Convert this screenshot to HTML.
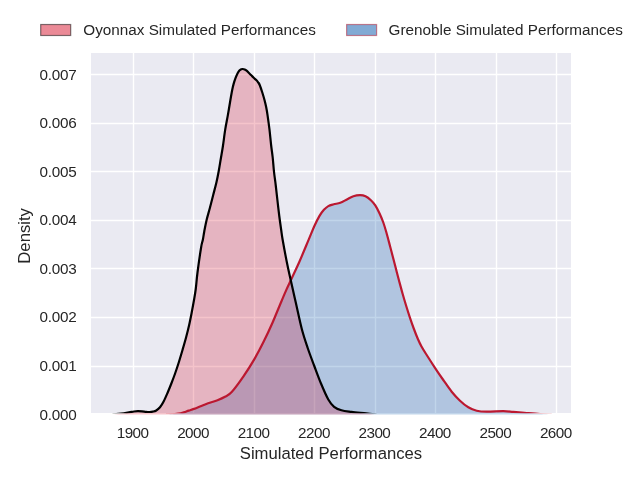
<!DOCTYPE html>
<html><head><meta charset="utf-8"><style>
html,body{margin:0;padding:0;background:#fff;}
body{width:640px;height:480px;overflow:hidden;}
svg{display:block;}
text{font-family:"Liberation Sans",sans-serif;fill:#262626;}
</style></head><body>
<svg width="640" height="480" viewBox="0 0 640 480">
<rect x="0" y="0" width="640" height="480" fill="#ffffff"/>
<rect x="91" y="53" width="480" height="360" fill="#eaeaf2"/>
<g stroke="#ffffff" stroke-width="1.4"><line x1="133.50" y1="53.0" x2="133.50" y2="413.0"/><line x1="193.50" y1="53.0" x2="193.50" y2="413.0"/><line x1="254.50" y1="53.0" x2="254.50" y2="413.0"/><line x1="314.50" y1="53.0" x2="314.50" y2="413.0"/><line x1="375.50" y1="53.0" x2="375.50" y2="413.0"/><line x1="435.50" y1="53.0" x2="435.50" y2="413.0"/><line x1="496.50" y1="53.0" x2="496.50" y2="413.0"/><line x1="556.50" y1="53.0" x2="556.50" y2="413.0"/><line x1="91" y1="366.50" x2="571" y2="366.50"/><line x1="91" y1="317.50" x2="571" y2="317.50"/><line x1="91" y1="268.50" x2="571" y2="268.50"/><line x1="91" y1="220.50" x2="571" y2="220.50"/><line x1="91" y1="171.50" x2="571" y2="171.50"/><line x1="91" y1="123.50" x2="571" y2="123.50"/><line x1="91" y1="74.50" x2="571" y2="74.50"/></g>
<clipPath id="c"><rect x="91" y="53" width="480" height="360.3"/></clipPath>
<path d="M166.00,414.60C167.50,414.50 172.58,414.22 175.00,414.00C177.42,413.78 178.83,413.63 180.50,413.30C182.17,412.97 183.65,412.45 185.00,412.00C186.35,411.55 187.12,411.12 188.60,410.60C190.08,410.08 191.90,409.63 193.90,408.90C195.90,408.17 198.23,407.13 200.60,406.20C202.97,405.27 205.28,404.30 208.10,403.30C210.92,402.30 214.68,401.28 217.50,400.20C220.32,399.12 222.63,398.17 225.00,396.80C227.37,395.43 228.65,395.37 231.70,392.00C234.75,388.63 239.52,382.08 243.30,376.60C247.08,371.12 251.00,364.93 254.40,359.10C257.80,353.27 260.68,347.67 263.70,341.60C266.72,335.53 269.82,328.77 272.50,322.70C275.18,316.63 277.55,310.55 279.80,305.20C282.05,299.85 283.95,295.22 286.00,290.60C288.05,285.98 289.85,282.35 292.10,277.50C294.35,272.65 296.68,267.93 299.50,261.50C302.32,255.07 306.50,244.85 309.00,238.90C311.50,232.95 312.75,229.63 314.50,225.80C316.25,221.97 317.93,218.57 319.50,215.90C321.07,213.23 322.43,211.43 323.90,209.80C325.37,208.17 326.66,207.02 328.30,206.10C329.94,205.18 331.75,204.85 333.75,204.30C335.75,203.75 338.11,203.60 340.30,202.80C342.49,202.00 344.72,200.59 346.90,199.50C349.08,198.41 351.22,196.97 353.40,196.25C355.58,195.53 357.98,195.20 360.00,195.20C362.02,195.20 363.68,195.42 365.50,196.25C367.32,197.08 369.27,198.67 370.90,200.20C372.53,201.72 373.83,203.14 375.30,205.40C376.77,207.66 378.37,210.90 379.70,213.75C381.03,216.60 382.18,219.38 383.30,222.50C384.42,225.62 385.28,228.58 386.40,232.50C387.52,236.42 388.80,241.45 390.00,246.00C391.20,250.55 392.57,255.83 393.60,259.80C394.63,263.77 395.30,266.35 396.20,269.80C397.10,273.25 397.93,276.51 399.00,280.50C400.07,284.49 401.38,289.46 402.60,293.75C403.82,298.04 405.07,302.24 406.30,306.25C407.53,310.26 408.76,314.09 410.00,317.80C411.24,321.51 412.42,324.92 413.75,328.50C415.08,332.08 416.71,336.30 418.00,339.30C419.29,342.30 420.05,343.88 421.50,346.50C422.95,349.12 424.40,351.37 426.70,355.00C429.00,358.63 432.53,364.13 435.30,368.30C438.07,372.47 440.57,376.10 443.30,380.00C446.03,383.90 448.92,388.25 451.70,391.70C454.48,395.15 457.23,398.10 460.00,400.70C462.77,403.30 465.52,405.63 468.30,407.30C471.08,408.97 473.63,409.97 476.70,410.70C479.77,411.43 482.27,411.62 486.70,411.70C491.13,411.78 498.87,411.17 503.30,411.20C507.73,411.23 509.40,411.60 513.30,411.90C517.20,412.20 522.25,412.65 526.70,413.00C531.15,413.35 535.83,413.73 540.00,414.00C544.17,414.27 549.75,414.50 551.70,414.60L551.70,414.40 L166.00,414.40 Z" fill="#0656aa" fill-opacity="0.25"/>
<path d="M112.50,414.60C113.92,414.45 118.25,414.07 121.00,413.70C123.75,413.33 126.83,412.77 129.00,412.40C131.17,412.03 132.53,411.72 134.00,411.50C135.47,411.28 136.47,411.13 137.80,411.10C139.13,411.07 140.63,411.18 142.00,411.30C143.37,411.42 144.75,411.68 146.00,411.80C147.25,411.92 148.37,412.03 149.50,412.00C150.63,411.97 151.68,411.85 152.80,411.60C153.93,411.35 155.05,411.22 156.25,410.50C157.45,409.78 158.75,408.84 160.00,407.30C161.25,405.76 162.50,403.63 163.75,401.25C165.00,398.87 166.25,395.92 167.50,393.00C168.75,390.08 170.00,386.96 171.25,383.75C172.50,380.54 173.75,377.29 175.00,373.75C176.25,370.21 177.50,366.46 178.75,362.50C180.00,358.54 181.28,354.17 182.50,350.00C183.72,345.83 184.94,341.67 186.05,337.50C187.16,333.33 188.21,329.17 189.15,325.00C190.09,320.83 190.89,316.67 191.70,312.50C192.51,308.33 193.32,303.92 194.00,300.00C194.68,296.08 195.17,293.58 195.75,289.00C196.33,284.42 196.61,279.42 197.50,272.50C198.39,265.58 200.20,253.00 201.10,247.50C202.00,242.00 202.37,242.21 202.90,239.50C203.43,236.79 203.68,234.50 204.30,231.25C204.92,228.00 205.65,223.96 206.60,220.00C207.55,216.04 208.90,211.67 210.00,207.50C211.10,203.33 212.13,199.17 213.20,195.00C214.27,190.83 215.50,186.38 216.40,182.50C217.30,178.62 217.87,175.71 218.60,171.75C219.33,167.79 220.08,163.00 220.80,158.75C221.52,154.50 222.17,151.09 222.90,146.25C223.63,141.41 224.37,134.92 225.20,129.70C226.03,124.47 227.03,119.85 227.90,114.90C228.77,109.95 229.67,104.23 230.40,100.00C231.13,95.77 231.75,92.23 232.30,89.50C232.85,86.77 233.17,85.50 233.70,83.60C234.23,81.70 234.87,79.80 235.50,78.10C236.13,76.40 236.85,74.65 237.50,73.40C238.15,72.15 238.78,71.28 239.40,70.60C240.03,69.92 240.68,69.57 241.25,69.30C241.82,69.03 242.23,68.97 242.80,69.00C243.38,69.03 244.07,69.22 244.70,69.50C245.33,69.78 245.92,70.15 246.60,70.70C247.28,71.25 247.97,72.03 248.75,72.80C249.53,73.57 250.42,74.47 251.25,75.30C252.08,76.13 252.92,77.00 253.75,77.80C254.58,78.60 255.53,79.35 256.25,80.10C256.98,80.85 257.53,81.48 258.10,82.30C258.68,83.12 259.00,83.30 259.70,85.00C260.40,86.70 261.50,90.00 262.30,92.50C263.10,95.00 263.84,97.50 264.50,100.00C265.16,102.50 265.75,105.02 266.25,107.50C266.75,109.98 266.96,111.20 267.50,114.90C268.04,118.60 268.90,124.68 269.50,129.70C270.10,134.72 270.57,140.37 271.10,145.00C271.63,149.63 272.22,153.04 272.70,157.50C273.18,161.96 273.50,167.17 274.00,171.75C274.50,176.33 275.13,180.29 275.70,185.00C276.27,189.71 276.80,194.79 277.40,200.00C278.00,205.21 278.67,211.25 279.30,216.25C279.93,221.25 280.65,226.12 281.20,230.00C281.75,233.88 281.67,234.17 282.60,239.50C283.53,244.83 285.47,255.33 286.80,262.00C288.13,268.67 289.07,272.58 290.60,279.50C292.13,286.42 294.13,295.25 296.00,303.50C297.87,311.75 299.85,321.58 301.80,329.00C303.75,336.42 305.62,341.83 307.70,348.00C309.78,354.17 312.08,360.08 314.30,366.00C316.52,371.92 318.67,377.92 321.00,383.50C323.33,389.08 326.12,395.62 328.30,399.50C330.48,403.38 331.92,405.00 334.10,406.80C336.28,408.60 338.48,409.45 341.40,410.30C344.32,411.15 347.47,411.38 351.60,411.90C355.73,412.42 362.07,412.95 366.20,413.40C370.33,413.85 374.70,414.40 376.40,414.60L376.40,414.40 L112.50,414.40 Z" fill="#d8152f" fill-opacity="0.25"/>
<g clip-path="url(#c)"><path d="M166.00,414.60C167.50,414.50 172.58,414.22 175.00,414.00C177.42,413.78 178.83,413.63 180.50,413.30C182.17,412.97 183.65,412.45 185.00,412.00C186.35,411.55 187.12,411.12 188.60,410.60C190.08,410.08 191.90,409.63 193.90,408.90C195.90,408.17 198.23,407.13 200.60,406.20C202.97,405.27 205.28,404.30 208.10,403.30C210.92,402.30 214.68,401.28 217.50,400.20C220.32,399.12 222.63,398.17 225.00,396.80C227.37,395.43 228.65,395.37 231.70,392.00C234.75,388.63 239.52,382.08 243.30,376.60C247.08,371.12 251.00,364.93 254.40,359.10C257.80,353.27 260.68,347.67 263.70,341.60C266.72,335.53 269.82,328.77 272.50,322.70C275.18,316.63 277.55,310.55 279.80,305.20C282.05,299.85 283.95,295.22 286.00,290.60C288.05,285.98 289.85,282.35 292.10,277.50C294.35,272.65 296.68,267.93 299.50,261.50C302.32,255.07 306.50,244.85 309.00,238.90C311.50,232.95 312.75,229.63 314.50,225.80C316.25,221.97 317.93,218.57 319.50,215.90C321.07,213.23 322.43,211.43 323.90,209.80C325.37,208.17 326.66,207.02 328.30,206.10C329.94,205.18 331.75,204.85 333.75,204.30C335.75,203.75 338.11,203.60 340.30,202.80C342.49,202.00 344.72,200.59 346.90,199.50C349.08,198.41 351.22,196.97 353.40,196.25C355.58,195.53 357.98,195.20 360.00,195.20C362.02,195.20 363.68,195.42 365.50,196.25C367.32,197.08 369.27,198.67 370.90,200.20C372.53,201.72 373.83,203.14 375.30,205.40C376.77,207.66 378.37,210.90 379.70,213.75C381.03,216.60 382.18,219.38 383.30,222.50C384.42,225.62 385.28,228.58 386.40,232.50C387.52,236.42 388.80,241.45 390.00,246.00C391.20,250.55 392.57,255.83 393.60,259.80C394.63,263.77 395.30,266.35 396.20,269.80C397.10,273.25 397.93,276.51 399.00,280.50C400.07,284.49 401.38,289.46 402.60,293.75C403.82,298.04 405.07,302.24 406.30,306.25C407.53,310.26 408.76,314.09 410.00,317.80C411.24,321.51 412.42,324.92 413.75,328.50C415.08,332.08 416.71,336.30 418.00,339.30C419.29,342.30 420.05,343.88 421.50,346.50C422.95,349.12 424.40,351.37 426.70,355.00C429.00,358.63 432.53,364.13 435.30,368.30C438.07,372.47 440.57,376.10 443.30,380.00C446.03,383.90 448.92,388.25 451.70,391.70C454.48,395.15 457.23,398.10 460.00,400.70C462.77,403.30 465.52,405.63 468.30,407.30C471.08,408.97 473.63,409.97 476.70,410.70C479.77,411.43 482.27,411.62 486.70,411.70C491.13,411.78 498.87,411.17 503.30,411.20C507.73,411.23 509.40,411.60 513.30,411.90C517.20,412.20 522.25,412.65 526.70,413.00C531.15,413.35 535.83,413.73 540.00,414.00C544.17,414.27 549.75,414.50 551.70,414.60" fill="none" stroke="#bb1830" stroke-width="2.2" stroke-linejoin="round"/>
<path d="M112.50,414.60C113.92,414.45 118.25,414.07 121.00,413.70C123.75,413.33 126.83,412.77 129.00,412.40C131.17,412.03 132.53,411.72 134.00,411.50C135.47,411.28 136.47,411.13 137.80,411.10C139.13,411.07 140.63,411.18 142.00,411.30C143.37,411.42 144.75,411.68 146.00,411.80C147.25,411.92 148.37,412.03 149.50,412.00C150.63,411.97 151.68,411.85 152.80,411.60C153.93,411.35 155.05,411.22 156.25,410.50C157.45,409.78 158.75,408.84 160.00,407.30C161.25,405.76 162.50,403.63 163.75,401.25C165.00,398.87 166.25,395.92 167.50,393.00C168.75,390.08 170.00,386.96 171.25,383.75C172.50,380.54 173.75,377.29 175.00,373.75C176.25,370.21 177.50,366.46 178.75,362.50C180.00,358.54 181.28,354.17 182.50,350.00C183.72,345.83 184.94,341.67 186.05,337.50C187.16,333.33 188.21,329.17 189.15,325.00C190.09,320.83 190.89,316.67 191.70,312.50C192.51,308.33 193.32,303.92 194.00,300.00C194.68,296.08 195.17,293.58 195.75,289.00C196.33,284.42 196.61,279.42 197.50,272.50C198.39,265.58 200.20,253.00 201.10,247.50C202.00,242.00 202.37,242.21 202.90,239.50C203.43,236.79 203.68,234.50 204.30,231.25C204.92,228.00 205.65,223.96 206.60,220.00C207.55,216.04 208.90,211.67 210.00,207.50C211.10,203.33 212.13,199.17 213.20,195.00C214.27,190.83 215.50,186.38 216.40,182.50C217.30,178.62 217.87,175.71 218.60,171.75C219.33,167.79 220.08,163.00 220.80,158.75C221.52,154.50 222.17,151.09 222.90,146.25C223.63,141.41 224.37,134.92 225.20,129.70C226.03,124.47 227.03,119.85 227.90,114.90C228.77,109.95 229.67,104.23 230.40,100.00C231.13,95.77 231.75,92.23 232.30,89.50C232.85,86.77 233.17,85.50 233.70,83.60C234.23,81.70 234.87,79.80 235.50,78.10C236.13,76.40 236.85,74.65 237.50,73.40C238.15,72.15 238.78,71.28 239.40,70.60C240.03,69.92 240.68,69.57 241.25,69.30C241.82,69.03 242.23,68.97 242.80,69.00C243.38,69.03 244.07,69.22 244.70,69.50C245.33,69.78 245.92,70.15 246.60,70.70C247.28,71.25 247.97,72.03 248.75,72.80C249.53,73.57 250.42,74.47 251.25,75.30C252.08,76.13 252.92,77.00 253.75,77.80C254.58,78.60 255.53,79.35 256.25,80.10C256.98,80.85 257.53,81.48 258.10,82.30C258.68,83.12 259.00,83.30 259.70,85.00C260.40,86.70 261.50,90.00 262.30,92.50C263.10,95.00 263.84,97.50 264.50,100.00C265.16,102.50 265.75,105.02 266.25,107.50C266.75,109.98 266.96,111.20 267.50,114.90C268.04,118.60 268.90,124.68 269.50,129.70C270.10,134.72 270.57,140.37 271.10,145.00C271.63,149.63 272.22,153.04 272.70,157.50C273.18,161.96 273.50,167.17 274.00,171.75C274.50,176.33 275.13,180.29 275.70,185.00C276.27,189.71 276.80,194.79 277.40,200.00C278.00,205.21 278.67,211.25 279.30,216.25C279.93,221.25 280.65,226.12 281.20,230.00C281.75,233.88 281.67,234.17 282.60,239.50C283.53,244.83 285.47,255.33 286.80,262.00C288.13,268.67 289.07,272.58 290.60,279.50C292.13,286.42 294.13,295.25 296.00,303.50C297.87,311.75 299.85,321.58 301.80,329.00C303.75,336.42 305.62,341.83 307.70,348.00C309.78,354.17 312.08,360.08 314.30,366.00C316.52,371.92 318.67,377.92 321.00,383.50C323.33,389.08 326.12,395.62 328.30,399.50C330.48,403.38 331.92,405.00 334.10,406.80C336.28,408.60 338.48,409.45 341.40,410.30C344.32,411.15 347.47,411.38 351.60,411.90C355.73,412.42 362.07,412.95 366.20,413.40C370.33,413.85 374.70,414.40 376.40,414.60" fill="none" stroke="#000000" stroke-width="2.2" stroke-linejoin="round"/></g>
<g opacity="0.999"><g font-size="15.28px" letter-spacing="-0.55"><text x="132.60" y="437.8" text-anchor="middle">1900</text><text x="193.06" y="437.8" text-anchor="middle">2000</text><text x="253.52" y="437.8" text-anchor="middle">2100</text><text x="313.98" y="437.8" text-anchor="middle">2200</text><text x="374.44" y="437.8" text-anchor="middle">2300</text><text x="434.90" y="437.8" text-anchor="middle">2400</text><text x="495.36" y="437.8" text-anchor="middle">2500</text><text x="555.82" y="437.8" text-anchor="middle">2600</text></g><g font-size="15.28px" letter-spacing="-0.2"><text x="76.6" y="419.60" text-anchor="end">0.000</text><text x="76.6" y="371.02" text-anchor="end">0.001</text><text x="76.6" y="322.44" text-anchor="end">0.002</text><text x="76.6" y="273.86" text-anchor="end">0.003</text><text x="76.6" y="225.28" text-anchor="end">0.004</text><text x="76.6" y="176.70" text-anchor="end">0.005</text><text x="76.6" y="128.12" text-anchor="end">0.006</text><text x="76.6" y="79.54" text-anchor="end">0.007</text></g>
<text x="331" y="458.6" text-anchor="middle" font-size="16.67px">Simulated Performances</text>
<text transform="translate(29.5,235.9) rotate(-90)" text-anchor="middle" font-size="16.67px">Density</text>
<rect x="40.7" y="24.5" width="30" height="11" fill="#d8152f" fill-opacity="0.5" stroke="#000" stroke-opacity="0.5" stroke-width="1.2"/>
<text x="83.3" y="35.3" font-size="15.28px">Oyonnax Simulated Performances</text>
<rect x="346.6" y="24.5" width="30" height="11" fill="#0656aa" fill-opacity="0.5" stroke="#b2182b" stroke-opacity="0.5" stroke-width="1.2"/>
<text x="388.6" y="35.3" font-size="15.28px">Grenoble Simulated Performances</text></g>
</svg>
</body></html>
